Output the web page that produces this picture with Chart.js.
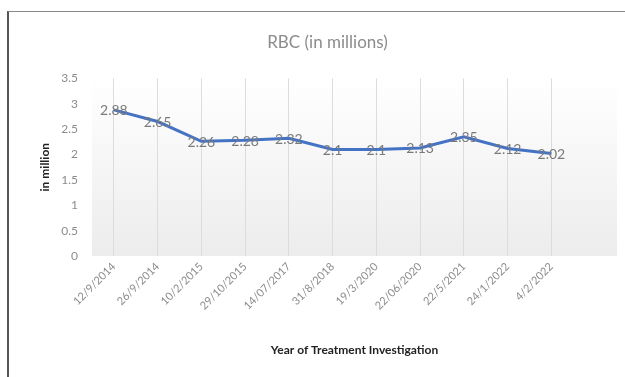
<!DOCTYPE html>
<html>
<head>
<meta charset="utf-8">
<script src="https://cdn.jsdelivr.net/npm/chart.js@4"></script>
<style>
  html, body { margin: 0; padding: 0; background: #fff; }
  #frame { position: absolute; left: 7px; top: 11px; width: 618px; height: 366px;
           border-left: 2px solid #555; border-top: 1px solid #888; }
  #wrap { position: absolute; left: 0; top: 0; width: 616px; height: 365px; }
</style>
</head>
<body>
<div id="frame"><div id="wrap"><canvas id="c"></canvas></div></div>
<script>
const categories = ['12/9/2014','26/9/2014','10/2/2015','29/10/2015','14/07/2017','31/8/2018','19/3/2020','22/06/2020','22/5/2021','24/1/2022','4/2/2022',''];
const rbcValues = [2.88, 2.65, 2.26, 2.28, 2.32, 2.1, 2.1, 2.13, 2.35, 2.12, 2.02, null];
const yTicks = [0, 0.5, 1, 1.5, 2, 2.5, 3, 3.5];

const FONT = 'Lato, "Open Sans", "Liberation Sans", sans-serif';

const bgPlugin = {
  id: 'bg',
  beforeDraw(chart) {
    const a = chart.chartArea, ctx = chart.ctx;
    const g = ctx.createLinearGradient(0, a.top, 0, a.bottom);
    g.addColorStop(0, '#ffffff');
    g.addColorStop(1, '#ececec');
    ctx.save();
    ctx.fillStyle = g;
    ctx.fillRect(a.left, a.top, a.right - a.left, a.bottom - a.top);
    ctx.restore();
  }
};

const labelPlugin = {
  id: 'vlabels',
  afterDatasetsDraw(chart) {
    const ctx = chart.ctx;
    const meta = chart.getDatasetMeta(0);
    ctx.save();
    ctx.font = '14px ' + FONT;
    ctx.fillStyle = '#7a7a7a';
    ctx.textAlign = 'center';
    ctx.textBaseline = 'middle';
    meta.data.forEach((pt, i) => {
      const v = rbcValues[i];
      if (v === null || v === undefined) return;
      ctx.fillText(String(v), pt.x, pt.y + 1);
    });
    ctx.restore();
  }
};

new Chart(document.getElementById('c'), {
  type: 'line',
  data: {
    labels: categories,
    datasets: [{
      data: rbcValues,
      borderColor: '#4472C4',
      borderWidth: 3,
      pointRadius: 0,
      tension: 0,
      fill: false
    }]
  },
  options: {
    responsive: true,
    maintainAspectRatio: false,
    animation: false,
    layout: { padding: { left: 29, right: 8, top: 0, bottom: 20 } },
    plugins: {
      legend: { display: false },
      tooltip: { enabled: false },
      title: {
        display: true,
        text: 'RBC (in millions)',
        color: '#8c8c8c',
        font: { family: FONT, size: 17, weight: 'normal' },
        padding: { top: 20, bottom: 26 }
      }
    },
    scales: {
      x: {
        offset: true,
        afterFit(axis) { axis.height = 101; },
        grid: {
          offset: false,
          drawTicks: false,
          color: (c) => (c.index < 11 ? '#dcdcdc' : 'rgba(0,0,0,0)'),
          lineWidth: 1
        },
        border: { display: false },
        ticks: {
          color: '#8c8c8c',
          font: { family: FONT, size: 11 },
          maxRotation: 45,
          minRotation: 45,
          padding: 4,
          autoSkip: false
        },
        title: {
          display: true,
          text: 'Year of Treatment Investigation',
          color: '#222',
          font: { family: FONT, size: 12, weight: 'bold' },
          padding: { top: 0, bottom: 0 }
        }
      },
      y: {
        min: 0,
        max: 3.5,
        afterBuildTicks(axis) { axis.ticks = yTicks.map(v => ({ value: v })); },
        afterFit(axis) { axis.width = 54; },
        grid: { display: false, drawTicks: false },
        border: { display: false },
        ticks: {
          color: '#8c8c8c',
          font: { family: FONT, size: 12 },
          padding: 14,
          callback: (v) => String(v)
        },
        title: {
          display: true,
          text: 'in million',
          color: '#222',
          font: { family: FONT, size: 12, weight: 'bold' },
          padding: { top: 0, bottom: 0 }
        }
      }
    }
  },
  plugins: [bgPlugin, labelPlugin]
});
</script>
</body>
</html>
